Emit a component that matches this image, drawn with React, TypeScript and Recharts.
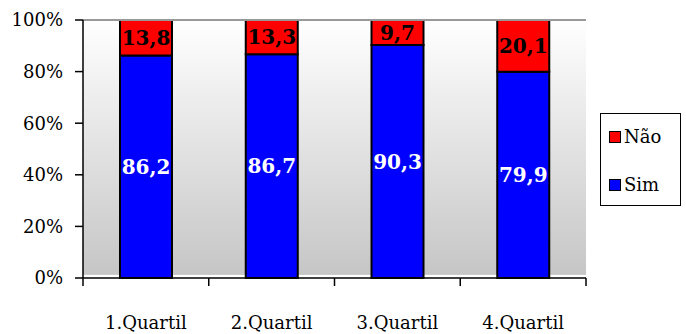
import React from 'react';
import { BarChart, Bar, XAxis, YAxis, CartesianGrid, LabelList, ReferenceLine } from 'recharts';

const categories = ['1.Quartil', '2.Quartil', '3.Quartil', '4.Quartil'];
const simValues = [86.2, 86.7, 90.3, 79.9];
const naoValues = [13.8, 13.3, 9.7, 20.1];
const yTicks = [0, 20, 40, 60, 80, 100];
const boundaryTicks = [0, 1, 2, 3, 4];

const data = categories.map((c, i) => ({ cat: c, pos: i + 0.5, sim: simValues[i], nao: naoValues[i] }));

const FONT = '"DejaVu Serif", serif';
const fmt = (v: any) => String(v).replace('.', ',');

const CatTick = (props: any) => {
  const { x, y, payload } = props;
  return (
    <text x={x} y={y + 50} textAnchor="middle" fontFamily={FONT} fontSize={18} fill="#000">
      {payload.value}
    </text>
  );
};

const LegendBox = () => (
  <div
    style={{
      position: 'absolute',
      left: 600,
      top: 113,
      border: '1px solid #000',
      width: 81,
      height: 93,
      boxSizing: 'border-box',
      background: '#fff',
      fontFamily: FONT,
      fontSize: 18,
      color: '#000',
    }}
  >
    {[
      { name: 'Não', color: '#ff0000', top: 12 },
      { name: 'Sim', color: '#0000ff', top: 60 },
    ].map((it) => (
      <div key={it.name} style={{ position: 'absolute', left: 8, top: it.top, display: 'flex', alignItems: 'center', lineHeight: '22px', whiteSpace: 'nowrap' }}>
        <span style={{ display: 'inline-block', width: 10, height: 10, background: it.color, border: '1px solid #000', marginRight: 3 }} />
        <span>{it.name}</span>
      </div>
    ))}
  </div>
);

export default function App() {
  return (
    <div style={{ position: 'absolute', left: 0, top: 0, width: 686, height: 334, background: '#fff' }}>
      <BarChart width={686} height={334} data={data} margin={{ top: 20, right: 100, bottom: 0, left: 0 }} barSize={52}>
        <defs>
          <linearGradient id="bgGrad" x1="0" y1="0" x2="0" y2="1">
            <stop offset="0" stopColor="#ffffff" />
            <stop offset="0.986" stopColor="#c6c6c6" />
            <stop offset="0.99" stopColor="#ffffff" />
            <stop offset="1" stopColor="#ffffff" />
          </linearGradient>
        </defs>
        <CartesianGrid horizontal={false} vertical={false} fill="url(#bgGrad)" stroke="none" />
        <XAxis
          xAxisId={0}
          dataKey="pos"
          type="number"
          domain={[0, 4]}
          ticks={boundaryTicks}
          allowDataOverflow
          height={1}
          tickFormatter={() => ''}
          tickSize={8}
          axisLine={{ stroke: '#000', strokeWidth: 1.5 }}
          tickLine={{ stroke: '#000', strokeWidth: 1.5 }}
        />
        <XAxis
          xAxisId="cat"
          dataKey="cat"
          type="category"
          height={55}
          axisLine={false}
          tickLine={false}
          tickSize={0}
          tickMargin={0}
          tick={<CatTick />}
          interval={0}
        />
        <YAxis
          yAxisId="l"
          domain={[0, 100]}
          ticks={yTicks}
          width={83}
          tickSize={8}
          tickMargin={12}
          tickFormatter={(v: number) => `${v}%`}
          tick={{ fontFamily: FONT, fontSize: 18, fill: '#000' }}
          axisLine={{ stroke: '#000', strokeWidth: 1.5 }}
          tickLine={{ stroke: '#000', strokeWidth: 1.5 }}
        />
        <YAxis yAxisId="r" orientation="right" width={0} domain={[0, 100]} tick={false} tickLine={false} axisLine={{ stroke: '#999', strokeWidth: 2 }} />
        <ReferenceLine yAxisId="l" xAxisId="cat" y={100} stroke="#999" strokeWidth={2} />
        <Bar dataKey="sim" name="Sim" stackId="a" xAxisId="cat" yAxisId="l" fill="#0000ff" stroke="#000" strokeWidth={2} isAnimationActive={false}>
          <LabelList dataKey="sim" position="center" formatter={fmt} fill="#fff" fontFamily={FONT} fontWeight="bold" fontSize={20} />
        </Bar>
        <Bar dataKey="nao" name="Não" stackId="a" xAxisId="cat" yAxisId="l" fill="#ff0000" stroke="#000" strokeWidth={2} isAnimationActive={false}>
          <LabelList dataKey="nao" position="center" formatter={fmt} fill="#000" fontFamily={FONT} fontWeight="bold" fontSize={20} />
        </Bar>
      </BarChart>
      <LegendBox />
    </div>
  );
}
